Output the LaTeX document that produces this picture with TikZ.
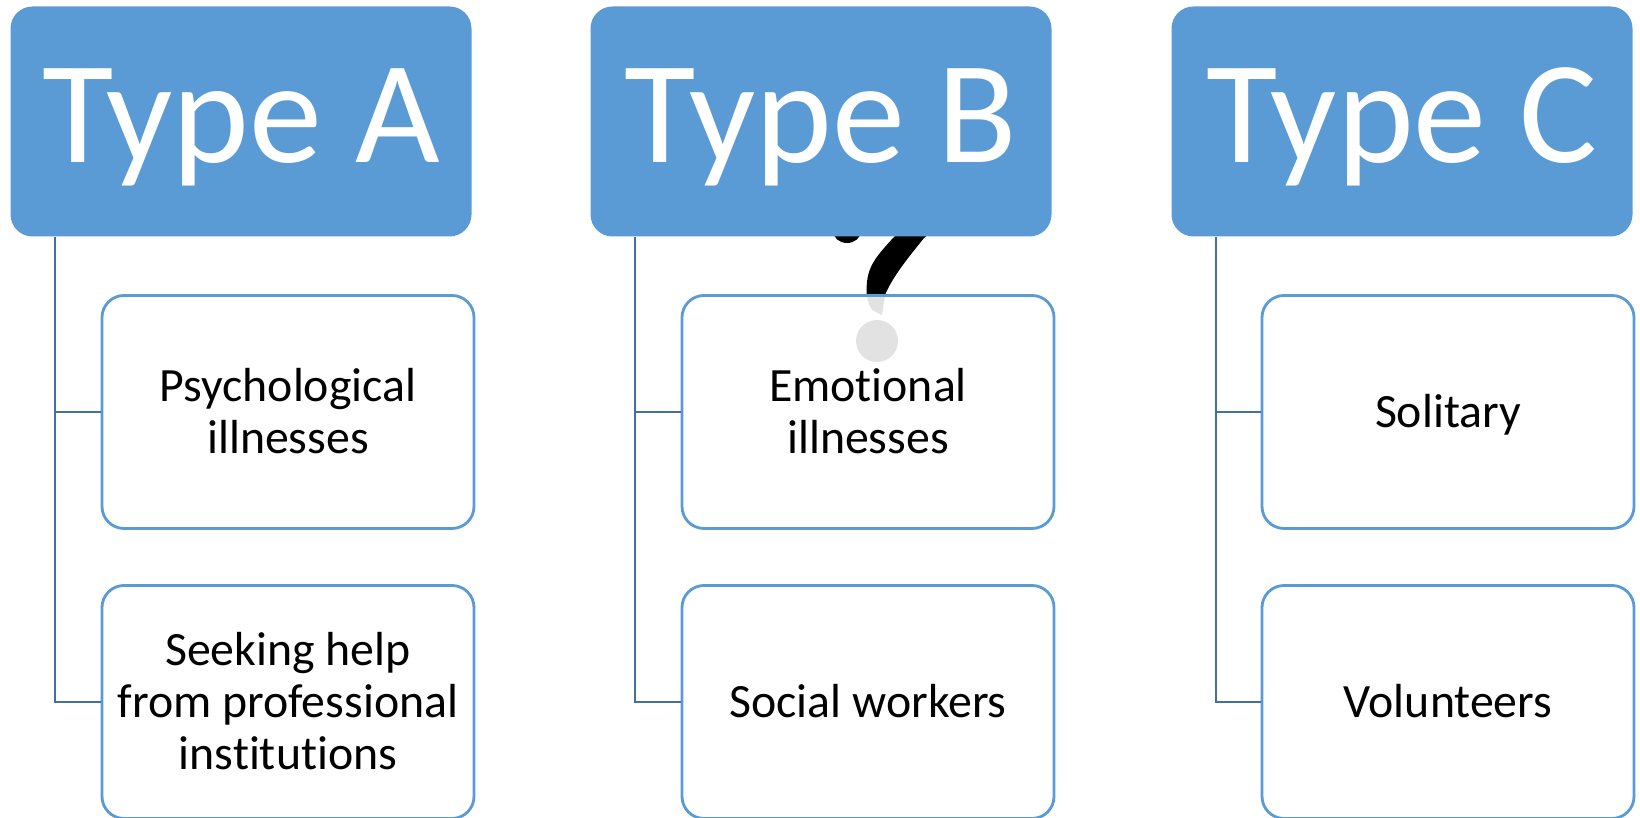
\documentclass[tikz,border=0pt]{standalone}
\usepackage{fontspec}
\setmainfont{Carlito}
\newfontfamily\itemfont[Ligatures=NoCommon]{Carlito}
\usepackage{tikz}
\usetikzlibrary{positioning}
\definecolor{headblue}{HTML}{5B9BD5}
\definecolor{linkblue}{HTML}{41719C}
\tikzset{
  headbox/.style={fill=headblue, text=white, rounded corners=0.22cm, minimum width=4.61cm, minimum height=2.30cm, inner sep=0pt, text height=1.0cm, text depth=0.18cm, font=\fontsize{41.6}{44}\selectfont},
  itembox/.style={draw=headblue, line width=0.8pt, fill=white, fill opacity=0.885, text opacity=1, rounded corners=0.22cm, minimum width=3.72cm, minimum height=2.33cm, inner sep=0pt, text width=3.6cm, align=flush center, execute at begin node=\rule{0pt}{13pt}, execute at end node=\strut, font=\itemfont\fontsize{13.6}{14.8}\selectfont},
  link/.style={draw=linkblue, line width=0.6pt}
}
\begin{document}
\begin{tikzpicture}
    \useasboundingbox (0,0) rectangle (16.4,8.18);
    % the mark behind the middle column
    \fill [black] (8.47,5.87) ellipse (0.14 and 0.12);
    \fill [black] (9.42,5.95) -- (9.24,5.80) .. controls (9.08,5.60) and (8.93,5.42) .. (8.85,5.23) -- (8.82,5.03) -- (8.72,5.08) .. controls (8.68,5.15) and (8.66,5.22) .. (8.667,5.28) .. controls (8.66,5.52) and (8.78,5.63) .. (8.93,5.80) -- (9.10,5.95) -- cycle;
    \fill [black] (8.77,4.77) circle (0.21);
    % heads
    \node[headbox] (typea) at (2.41,6.965) {Type A};
    \node[headbox] (typeb) at (8.21,6.965) {Type B};
    \node[headbox] (typec) at (14.02,6.965) {Type C};
    % items
    \node[itembox] (psych) at (2.88,4.06) {Psychological\\illnesses};
    \node[itembox] (help) at (2.88,1.16) {Seeking help\\from professional\\institutions};
    \node[itembox] (emot) at (8.68,4.06) {Emotional\\illnesses};
    \node[itembox] (social) at (8.68,1.16) {Social workers};
    \node[itembox] (solitary) at (14.48,4.06) {Solitary};
    \node[itembox] (volunteers) at (14.48,1.16) {Volunteers};
    % trunks
    \coordinate (trunka) at (0.55,5.81);
    \coordinate (trunkb) at (6.35,5.81);
    \coordinate (trunkc) at (12.16,5.81);
    \draw [link] (trunka) |- (psych.west);
    \draw [link] (trunka) |- (help.west);
    \draw [link] (trunkb) |- (emot.west);
    \draw [link] (trunkb) |- (social.west);
    \draw [link] (trunkc) |- (solitary.west);
    \draw [link] (trunkc) |- (volunteers.west);
\end{tikzpicture}
\end{document}
